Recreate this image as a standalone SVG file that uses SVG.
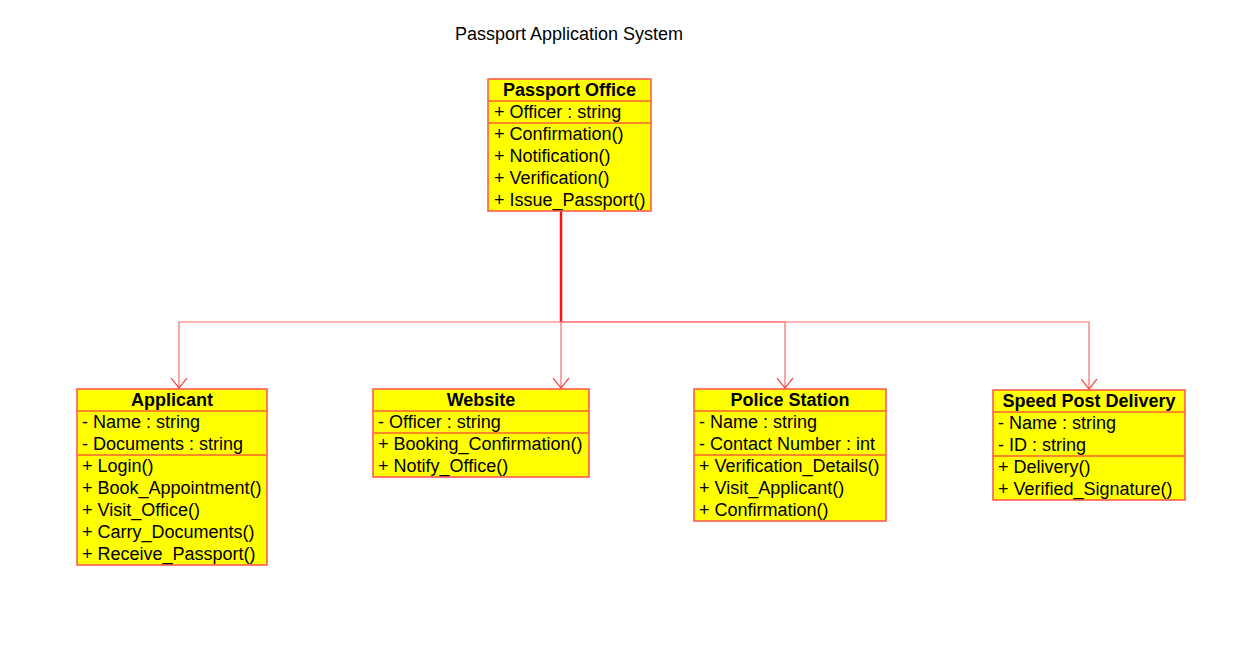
<svg xmlns="http://www.w3.org/2000/svg" width="1257" height="655" viewBox="0 0 1257 655">
<defs>
<style>
.box{fill:#FFFF00;stroke:#FF5050;stroke-width:1.5}
.div{stroke:#FF6030;stroke-width:1.5}
text{font-family:"Liberation Sans",Arial,sans-serif;font-size:18px;fill:#000}
.t{font-weight:bold;text-anchor:middle}
.c{fill:none;stroke:#FF6A6A;stroke-width:1.2}
.main{fill:none;stroke:#FF1010;stroke-width:2.5}
</style>
<marker id="arr" viewBox="0 0 20 20" refX="10" refY="10" markerWidth="20" markerHeight="20" markerUnits="userSpaceOnUse" orient="auto">
<path d="M0,2 L10,10 L0,18" fill="none" stroke="#FF3030" stroke-width="1.2"/>
</marker>
</defs>
<rect width="1257" height="655" fill="#fff"/>
<text x="455" y="40">Passport Application System</text>

<g id="connectors">
<path class="main" d="M561,211 V322"/>
<path class="c" d="M561,322 H179 V388" marker-end="url(#arr)"/>
<path class="c" d="M561,322 V388" marker-end="url(#arr)"/>
<path class="c" d="M561,322 H785 V388" marker-end="url(#arr)"/>
<path class="c" d="M561,322 H1089 V389" marker-end="url(#arr)"/>
</g>

<g id="passport-office">
<rect class="box" x="488" y="79" width="163" height="132"/>
<line class="div" x1="488" y1="101" x2="651" y2="101"/>
<line class="div" x1="488" y1="123" x2="651" y2="123"/>
<text class="t" x="569.5" y="96">Passport Office</text>
<text x="494" y="118">+ Officer : string</text>
<text x="494" y="140">+ Confirmation()</text>
<text x="494" y="162">+ Notification()</text>
<text x="494" y="184">+ Verification()</text>
<text x="494" y="206">+ Issue_Passport()</text>
</g>

<g id="applicant">
<rect class="box" x="77" y="389" width="190" height="176"/>
<line class="div" x1="77" y1="411" x2="267" y2="411"/>
<line class="div" x1="77" y1="455" x2="267" y2="455"/>
<text class="t" x="172" y="406">Applicant</text>
<text x="82" y="428">- Name : string</text>
<text x="82" y="450">- Documents : string</text>
<text x="82" y="472">+ Login()</text>
<text x="82" y="494">+ Book_Appointment()</text>
<text x="82" y="516">+ Visit_Office()</text>
<text x="82" y="538">+ Carry_Documents()</text>
<text x="82" y="560">+ Receive_Passport()</text>
</g>

<g id="website">
<rect class="box" x="373" y="389" width="216" height="88"/>
<line class="div" x1="373" y1="411" x2="589" y2="411"/>
<line class="div" x1="373" y1="433" x2="589" y2="433"/>
<text class="t" x="481" y="406">Website</text>
<text x="378" y="428">- Officer : string</text>
<text x="378" y="450">+ Booking_Confirmation()</text>
<text x="378" y="472">+ Notify_Office()</text>
</g>

<g id="police-station">
<rect class="box" x="694" y="389" width="192" height="132"/>
<line class="div" x1="694" y1="411" x2="886" y2="411"/>
<line class="div" x1="694" y1="455" x2="886" y2="455"/>
<text class="t" x="790" y="406">Police Station</text>
<text x="699" y="428">- Name : string</text>
<text x="699" y="450">- Contact Number : int</text>
<text x="699" y="472">+ Verification_Details()</text>
<text x="699" y="494">+ Visit_Applicant()</text>
<text x="699" y="516">+ Confirmation()</text>
</g>

<g id="speed-post-delivery">
<rect class="box" x="993" y="390" width="192" height="110"/>
<line class="div" x1="993" y1="412" x2="1185" y2="412"/>
<line class="div" x1="993" y1="456" x2="1185" y2="456"/>
<text class="t" x="1089" y="407">Speed Post Delivery</text>
<text x="998" y="429">- Name : string</text>
<text x="998" y="451">- ID : string</text>
<text x="998" y="473">+ Delivery()</text>
<text x="998" y="495">+ Verified_Signature()</text>
</g>
</svg>
